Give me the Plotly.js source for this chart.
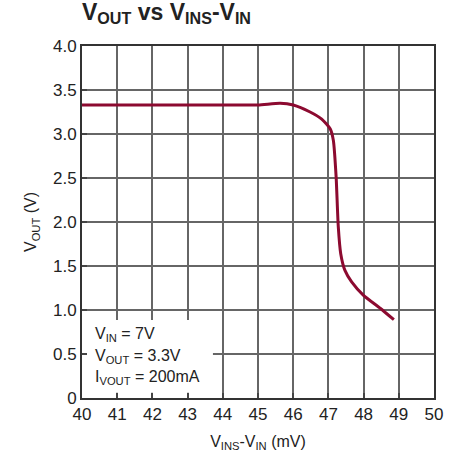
<!DOCTYPE html>
<html><head><meta charset="utf-8">
<script src="https://cdn.plot.ly/plotly-3.0.1.min.js"></script>
<style>body{margin:0;background:#fff}</style>
</head><body>
<div id="chart" style="width:458px;height:460px"></div>
<script>
const vinsMinusVin = [40, 41, 42, 43, 44, 45, 45.63, 46.0, 46.48, 46.81, 47.05, 47.14, 47.22, 47.28, 47.35, 47.47, 47.66, 47.99, 48.47, 48.86];
const vout = [3.33, 3.33, 3.33, 3.33, 3.33, 3.33, 3.35, 3.33, 3.25, 3.17, 3.06, 2.93, 2.51, 1.95, 1.64, 1.45, 1.32, 1.17, 1.02, 0.89];
const xTicks = [40, 41, 42, 43, 44, 45, 46, 47, 48, 49, 50];
const yTicks = [0, 0.5, 1, 1.5, 2, 2.5, 3, 3.5, 4];
const yTickText = ['0', '0.5', '1.0', '1.5', '2.0', '2.5', '3.0', '3.5', '4.0'];
const conditions = ['V<sub>IN</sub> = 7V', 'V<sub>OUT</sub> = 3.3V', 'I<sub>VOUT</sub> = 200mA'];

const F = 'Liberation Sans, Arial, sans-serif';
const trace = {x: vinsMinusVin, y: vout, mode: 'lines', line: {color: '#8c0a30', width: 3, shape: 'spline', smoothing: 0.6}, hoverinfo: 'skip'};
const layout = {
  width: 458, height: 460,
  margin: {l: 82, r: 24, t: 46, b: 62},
  paper_bgcolor: '#fff', plot_bgcolor: '#fff',
  showlegend: false,
  font: {family: F, size: 17, color: '#222'},
  title: {text: '<b>V<sub>OUT</sub> vs V<sub>INS</sub>-V<sub>IN</sub></b>', x: 0, xref: 'paper', xanchor: 'left', y: 0.975, yanchor: 'middle', yref: 'container', font: {family: F, size: 23, color: '#222'}},
  xaxis: {range: [40, 50], tickvals: xTicks, ticktext: xTicks.map(String), showgrid: true, gridcolor: '#666', gridwidth: 1.5,
    showline: true, linecolor: '#333', linewidth: 2, mirror: true, ticks: 'inside', ticklen: 5, tickcolor: '#444', tickwidth: 1.5,
    zeroline: false, fixedrange: true, tickfont: {family: F, size: 17, color: '#222'},
    title: {text: 'V<sub>INS</sub>-V<sub>IN</sub> (mV)', font: {family: F, size: 16, color: '#222'}, standoff: 12}},
  yaxis: {range: [0, 4], tickvals: yTicks, ticktext: yTickText, showgrid: true, gridcolor: '#666', gridwidth: 1.5,
    showline: true, linecolor: '#333', linewidth: 2, mirror: true, ticks: 'inside', ticklen: 5, tickcolor: '#444', tickwidth: 1.5,
    zeroline: false, fixedrange: true, tickfont: {family: F, size: 17, color: '#222'},
    title: {text: 'V<sub>OUT</sub> (V)', font: {family: F, size: 16, color: '#222'}, standoff: 12}},
  shapes: [{type: 'rect', xref: 'x', yref: 'y', x0: 40, x1: 43.72, y0: 0.06, y1: 0.886, fillcolor: '#fff', line: {width: 0}, layer: 'between'}],
  annotations: conditions.map((t, i) => ({xref: 'paper', yref: 'y', x: 0.03, y: 0.72 - i * 0.245, text: t, showarrow: false, xanchor: 'left', yanchor: 'middle', font: {family: F, size: 16, color: '#222'}}))
};
Plotly.newPlot('chart', [trace], layout, {displayModeBar: false});
</script>
</body></html>
